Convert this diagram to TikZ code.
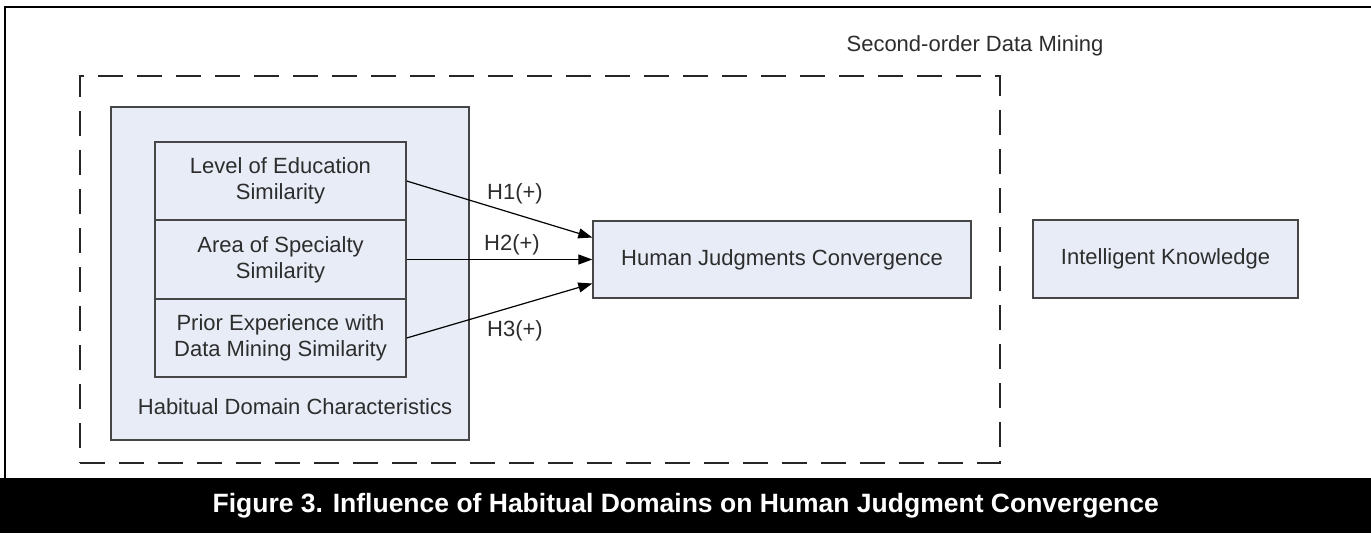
\documentclass[tikz,border=0pt]{standalone}
\usepackage{fontspec}
\setmainfont{Liberation Sans}
\usetikzlibrary{arrows.meta}
\definecolor{boxfill}{RGB}{231,236,247}
\definecolor{boxline}{RGB}{70,70,70}
\definecolor{txt}{RGB}{45,45,45}
\tikzset{
  box/.style={draw=boxline, line width=1.4pt, fill=boxfill, inner sep=0pt, align=center, text=txt,
    font=\fontsize{22}{26}\selectfont},
  plain/.style={text=txt, inner sep=0pt, align=center, font=\fontsize{22}{26}\selectfont},
  arr/.style={draw=black, line width=1.2pt, -{Triangle[length=14pt,width=10pt]}},
  dashbox/.style={draw=black!85, line width=1.4pt, dash pattern=on 25pt off 14pt, inner sep=0pt}
}
\begin{document}
\begin{tikzpicture}[x=1pt,y=-1pt]
\useasboundingbox (0,0) rectangle (1371,533);
\fill[white] (0,0) rectangle (1371,533);
% outer frame
\coordinate (ftl) at (5,7);
\coordinate (ftr) at (1371,7);
\coordinate (fbl) at (5,478);
\draw[line width=2.5pt] (ftr) -- (ftl) -- (fbl);
% caption bar
\node[fill=black, minimum width=1371pt, minimum height=55pt, inner sep=0pt, anchor=north west,
  text=white, font=\fontsize{26.5}{30}\selectfont\bfseries] (cap) at (0,478)
  {Figure 3. Influence of Habitual Domains on Human Judgment Convergence};
% dashed second-order box
\node[dashbox, minimum width=920pt, minimum height=387pt] (sdm) at (540,269.5) {};
\node[plain] (sdmlabel) at (975,46) {Second-order Data Mining};
% habitual domain box
\node[box, minimum width=358pt, minimum height=333pt] (hdc) at (290,273.5) {};
\node[box, minimum width=251pt, minimum height=78pt] (lev) at (280.5,181) {Level of Education\\Similarity};
\node[box, minimum width=251pt, minimum height=78pt] (area) at (280.5,259.5) {Area of Specialty\\Similarity};
\node[box, minimum width=251pt, minimum height=78pt] (prior) at (280.5,338) {Prior Experience with\\Data Mining Similarity};
\node[plain] (hdclabel) at (295,407) {Habitual Domain Characteristics};
% right boxes
\node[box, minimum width=378pt, minimum height=77pt] (hjc) at (782,259.5) {Human Judgments Convergence};
\node[box, minimum width=265pt, minimum height=78pt] (ik) at (1165.5,259) {Intelligent Knowledge};
% arrows
\draw[arr] (lev.east) -- ([yshift=22pt]hjc.west);
\draw[arr] (area.east) -- (hjc.west);
\draw[arr] (prior.east) -- ([yshift=-24pt]hjc.west);
\node[plain] (h1) at (515,194) {H1(+)};
\node[plain] (h2) at (512,245) {H2(+)};
\node[plain] (h3) at (515,331) {H3(+)};
\end{tikzpicture}
\end{document}
